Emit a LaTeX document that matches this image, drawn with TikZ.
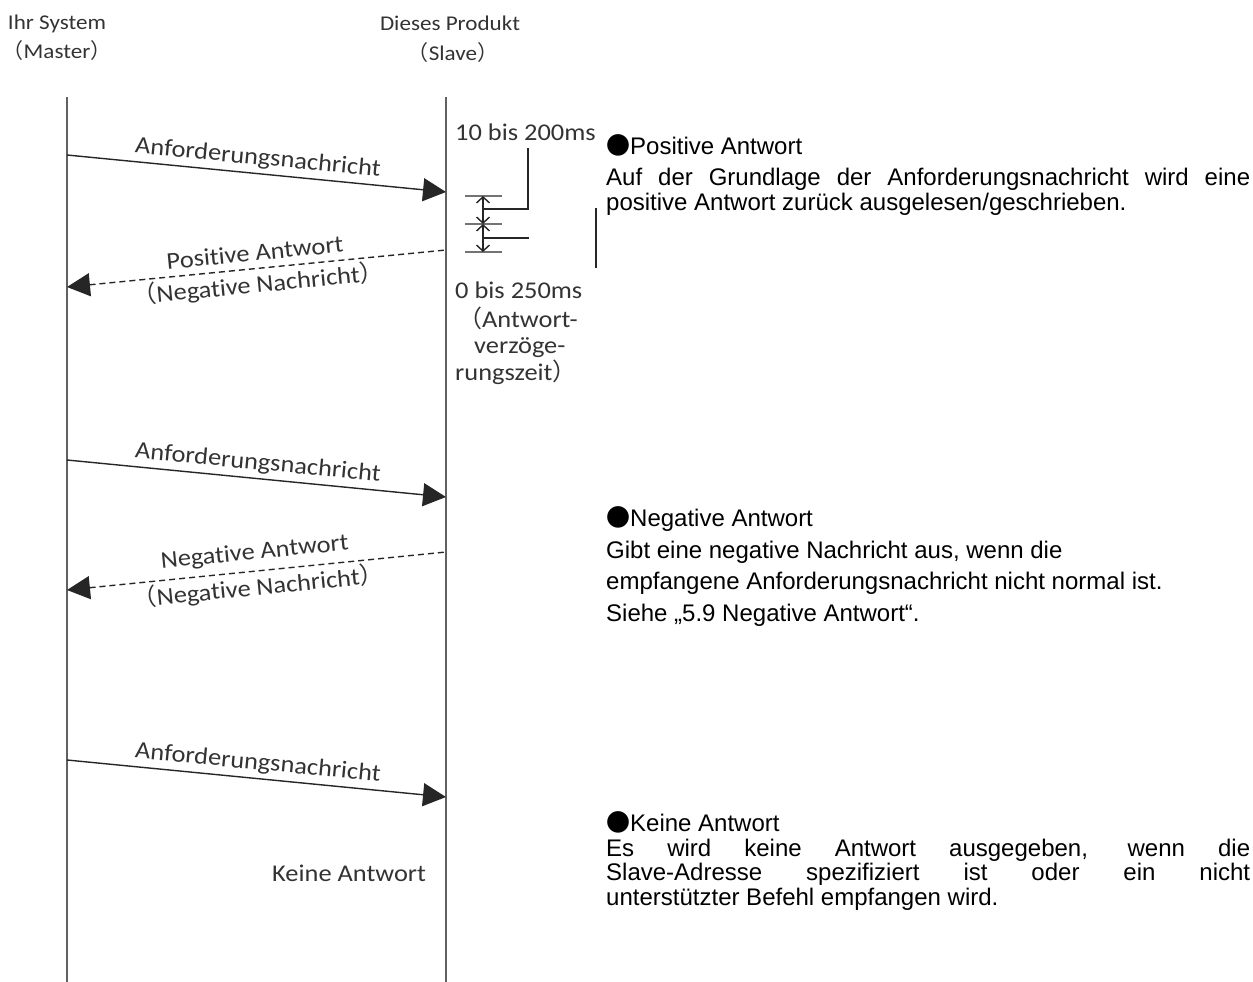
\documentclass[tikz,border=0pt]{standalone}
\usepackage{fontspec}
\setmainfont{Liberation Sans}
\newfontfamily\carl[FakeStretch=1.1,Ligatures=NoCommon]{Carlito}
\newfontfamily\cjk{Noto Sans CJK JP}
\usetikzlibrary{arrows.meta,calc}
\newcommand\fwlp{{\cjk （}}
\newcommand\fwrp{{\cjk ）}}
\newcommand\blt{{\cjk\fontsize{24}{25}\selectfont ●}}
\begin{document}
\begin{tikzpicture}[x=1pt,y=-1pt,
  lifeline/.style={draw=black!62, line width=2.6pt},
  msg/.style={draw=black!85, line width=1.4pt, -{Triangle[length=23pt,width=23pt]}},
  reply/.style={draw=black!85, line width=1.4pt, dash pattern=on 6pt off 4pt,
                {Triangle[length=23pt,width=23pt]}-},
  lbl/.style={font=\carl\fontsize{24}{26}\selectfont, text=black!80, inner sep=0pt},
  head/.style={font=\carl\fontsize{21}{24}\selectfont, text=black!80, inner sep=0pt, anchor=base},
  note/.style={font=\fontsize{24}{25}\selectfont, inner sep=0pt, anchor=base west},
  tick/.style={draw=black!55, line width=2pt},
  lead/.style={draw=black!85, line width=1.4pt},
  dim/.style={draw=black!85, line width=1.4pt, {Straight Barb[length=6pt,width=13pt]}-{Straight Barb[length=6pt,width=13pt]}}
]
\useasboundingbox (0,0) rectangle (1253,982);

% headings of the two parties
\node[head] (mh1) at (57,30) {Ihr System};
\node[head] (mh2) at (57,59) {\fwlp Master\fwrp};
\node[head] (sh1) at (450,31) {Dieses Produkt};
\node[head] (sh2) at (453,60) {\fwlp Slave\fwrp};

% lifelines
\coordinate (mtop) at (67,97);
\coordinate (mbot) at (67,982);
\coordinate (stop) at (446,97);
\coordinate (sbot) at (446,982);
\draw[lifeline] (mtop) -- (mbot);
\draw[lifeline] (stop) -- (sbot);

% message points on the lifelines
\coordinate (m1) at (67,155);  \coordinate (s1) at (446,192);
\coordinate (s2) at (446,250); \coordinate (m2) at (67,287);
\coordinate (m3) at (67,460);  \coordinate (s3) at (446,497);
\coordinate (s4) at (446,552); \coordinate (m4) at (67,590);
\coordinate (m5) at (67,760);  \coordinate (s5) at (446,797);

% request / response exchanges
\draw[msg] (m1) -- (s1) node[lbl, midway, sloped, above=4pt] (l1) {Anforderungsnachricht};
\draw[reply] (m2) -- (s2)
  node[lbl, midway, sloped, above=7pt] (l2a) {Positive Antwort}
  node[lbl, midway, sloped, below=3pt] (l2b) {\fwlp Negative Nachricht\fwrp};
\draw[msg] (m3) -- (s3) node[lbl, midway, sloped, above=4pt] (l3) {Anforderungsnachricht};
\draw[reply] (m4) -- (s4)
  node[lbl, midway, sloped, above=7pt] (l4a) {Negative Antwort}
  node[lbl, midway, sloped, below=3pt] (l4b) {\fwlp Negative Nachricht\fwrp};
\draw[msg] (m5) -- (s5) node[lbl, midway, sloped, above=4pt] (l5) {Anforderungsnachricht};
\node[lbl, anchor=base west] (none) at (272,881) {Keine Antwort};

% timing annotation
\node[lbl, anchor=base west] (t1) at (455,140) {10 bis 200ms};
\coordinate (ta) at (483,196);
\coordinate (tb) at (483,224);
\coordinate (tc) at (483,252);
\draw[tick] (465,196) -- (502,196);
\draw[tick] (465,224) -- (502,224);
\draw[tick] (465,252) -- (502,252);
\draw[dim] (ta) -- (tb);
\draw[dim] (tb) -- (tc);
\draw[lead] (483,209) -- (528,209) -- (528,148);
\draw[lead] (483,238) -- (529,238);
\draw[lead] (596,208) -- (596,268);
\node[lbl, anchor=base west] (t2) at (455,298) {0 bis 250ms};
\node[lbl, anchor=base west] (t3) at (458,327) {\fwlp Antwort-};
\node[lbl, anchor=base west] (t4) at (474,353) {verzöge-};
\node[lbl, anchor=base west] (t5) at (455,380) {rungszeit\fwrp};

% explanations
\node[note] (p1h) at (606,154) {\blt Positive Antwort};
\node[note] (p1a) at (606,185) {\makebox[644pt][s]{Auf der Grundlage der Anforderungsnachricht wird eine}};
\node[note] (p1b) at (606,210) {positive Antwort zurück ausgelesen/geschrieben.};

\node[note] (p2h) at (606,526) {\blt Negative Antwort};
\node[note] (p2a) at (606,558) {Gibt eine negative Nachricht aus, wenn die};
\node[note] (p2b) at (606,589) {empfangene Anforderungsnachricht nicht normal ist.};
\node[note] (p2c) at (606,621) {Siehe „5.9 Negative Antwort“.};

\node[note] (p3h) at (606,831) {\blt Keine Antwort};
\node[note] (p3a) at (606,856) {\makebox[644pt][s]{Es wird keine Antwort ausgegeben, wenn die}};
\node[note] (p3b) at (606,880) {\makebox[644pt][s]{Slave-Adresse spezifiziert ist oder ein nicht}};
\node[note] (p3c) at (606,905) {unterstützter Befehl empfangen wird.};
\end{tikzpicture}
\end{document}
